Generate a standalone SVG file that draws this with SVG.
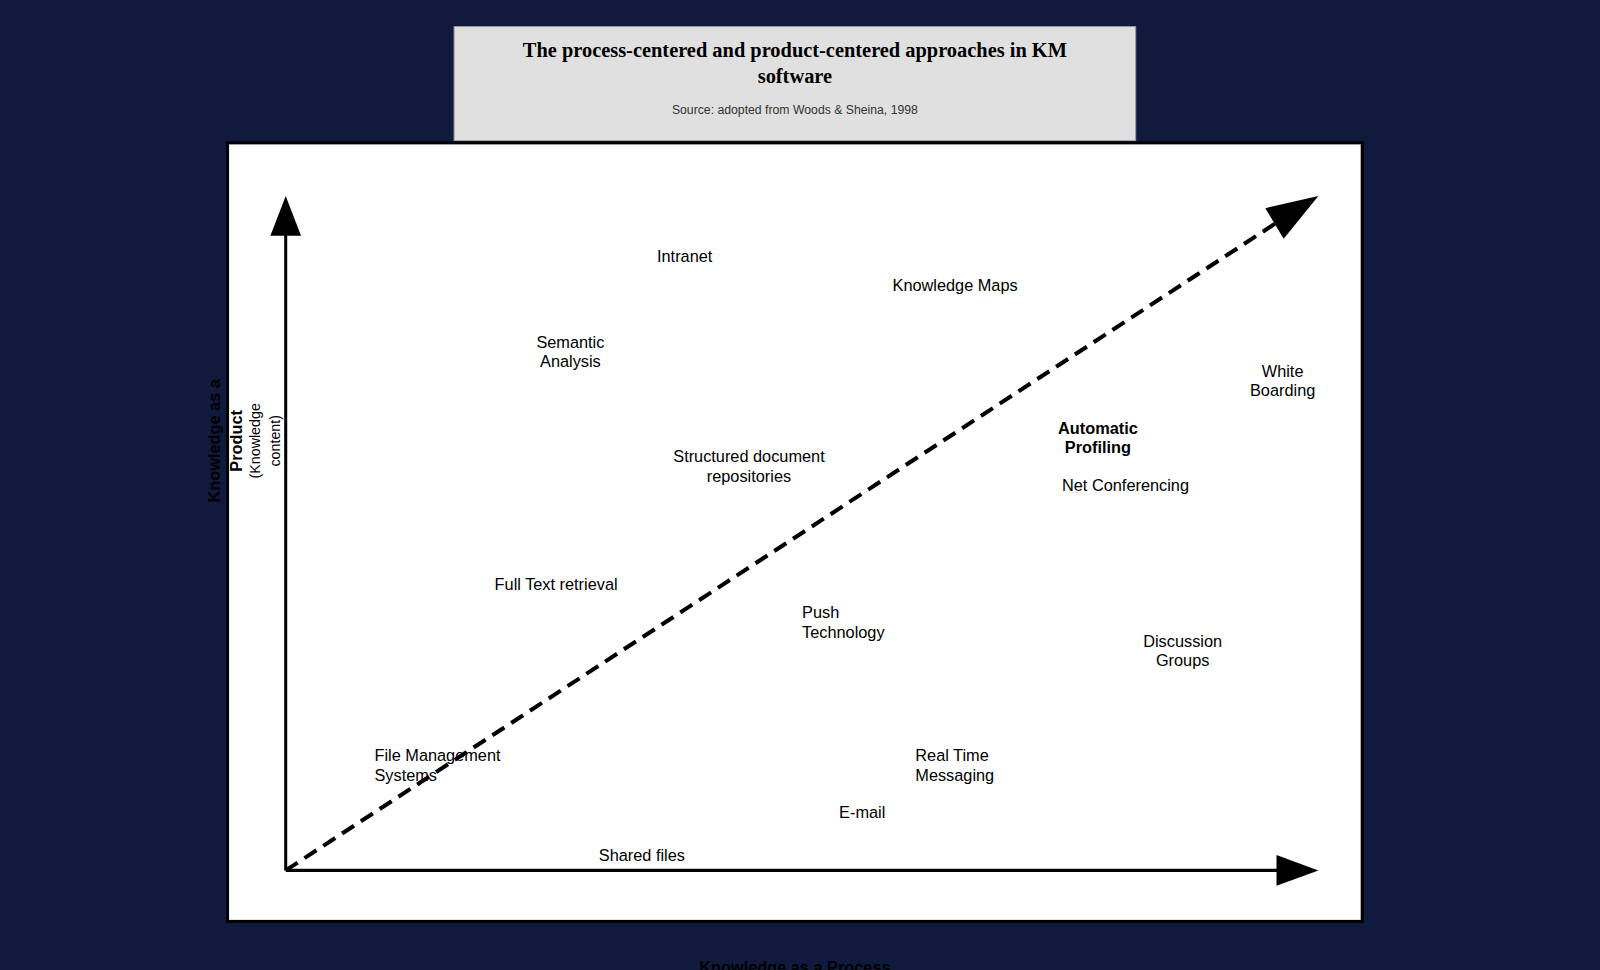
<svg xmlns="http://www.w3.org/2000/svg" width="1600" height="970" viewBox="0 0 1600 970">
<defs>
<style>
.t{font-family:"Liberation Sans",Arial,sans-serif;font-size:16px;fill:#000}
.b{font-weight:bold}
</style>
<marker id="ah" markerWidth="10" markerHeight="10" refX="9" refY="5" orient="auto" markerUnits="userSpaceOnUse" viewBox="0 0 10 10"><path d="M0,0 L10,5 L0,10 z" fill="#000"/></marker>
</defs>
<rect width="1600" height="970" fill="#101a3c"/>
<g transform="scale(1.0204)">
<g id="header">
<rect x="445" y="26" width="668" height="112" fill="#e0e0e0" stroke="#999" stroke-width="1"/>
<text x="779" y="56" text-anchor="middle" style="font-family:'Liberation Serif',serif;font-weight:bold;font-size:20px">The process-centered and product-centered approaches in KM</text>
<text x="779" y="81" text-anchor="middle" style="font-family:'Liberation Serif',serif;font-weight:bold;font-size:20px">software</text>
<text x="779" y="112" text-anchor="middle" style="font-family:'Liberation Sans',sans-serif;font-size:12px;fill:#333">Source: adopted from Woods &amp; Sheina, 1998</text>
</g>
<g id="frame"><rect x="223" y="140" width="1112" height="763" fill="#fff" stroke="#000" stroke-width="3"/></g>
<g id="connectors">
<line x1="280" y1="853" x2="280" y2="230" stroke="#000" stroke-width="3"/>
<polygon points="280,192 265,231 295,231" fill="#000"/>
<line x1="280" y1="853" x2="1252" y2="853" stroke="#000" stroke-width="3"/>
<polygon points="1292,853 1251,838 1251,868" fill="#000"/>
<line x1="280" y1="853" x2="1256" y2="215" stroke="#000" stroke-width="4" stroke-dasharray="14,8"/>
<polygon points="1292,192 1240,204 1258,234" fill="#000"/>
</g>
<g id="ylabel" transform="translate(240,432) rotate(-90)">
<text x="0" y="-24" text-anchor="middle" class="t b">Knowledge as a</text>
<text x="0" y="-3" text-anchor="middle" class="t b">Product</text>
<text x="0" y="15" text-anchor="middle" class="t" style="font-size:14px">(Knowledge</text>
<text x="0" y="34" text-anchor="middle" class="t" style="font-size:14px">content)</text>
</g>
<g id="xlabel"><text x="779" y="954" text-anchor="middle" class="t b">Knowledge as a Process</text></g>
<g id="n-intranet"><text x="671" y="257" text-anchor="middle" class="t">Intranet</text></g>
<g id="n-kmaps"><text x="936" y="285" text-anchor="middle" class="t">Knowledge Maps</text></g>
<g id="n-semantic"><text x="559" y="341" text-anchor="middle" class="t">Semantic</text><text x="559" y="360" text-anchor="middle" class="t">Analysis</text></g>
<g id="n-white"><text x="1257" y="369" text-anchor="middle" class="t">White</text><text x="1257" y="388" text-anchor="middle" class="t">Boarding</text></g>
<g id="n-auto"><text x="1076" y="425" text-anchor="middle" class="t b">Automatic</text><text x="1076" y="444" text-anchor="middle" class="t b">Profiling</text></g>
<g id="n-struct"><text x="734" y="453" text-anchor="middle" class="t">Structured document</text><text x="734" y="472" text-anchor="middle" class="t">repositories</text></g>
<g id="n-net"><text x="1103" y="481" text-anchor="middle" class="t">Net Conferencing</text></g>
<g id="n-full"><text x="545" y="578" text-anchor="middle" class="t">Full Text retrieval</text></g>
<g id="n-push"><text x="786" y="606" class="t">Push</text><text x="786" y="625" class="t">Technology</text></g>
<g id="n-disc"><text x="1159" y="634" text-anchor="middle" class="t">Discussion</text><text x="1159" y="653" text-anchor="middle" class="t">Groups</text></g>
<g id="n-file"><text x="367" y="746" class="t">File Management</text><text x="367" y="765" class="t">Systems</text></g>
<g id="n-rt"><text x="897" y="746" class="t">Real Time</text><text x="897" y="765" class="t">Messaging</text></g>
<g id="n-email"><text x="845" y="802" text-anchor="middle" class="t">E-mail</text></g>
<g id="n-shared"><text x="629" y="844" text-anchor="middle" class="t">Shared files</text></g>
</g>
</svg>
